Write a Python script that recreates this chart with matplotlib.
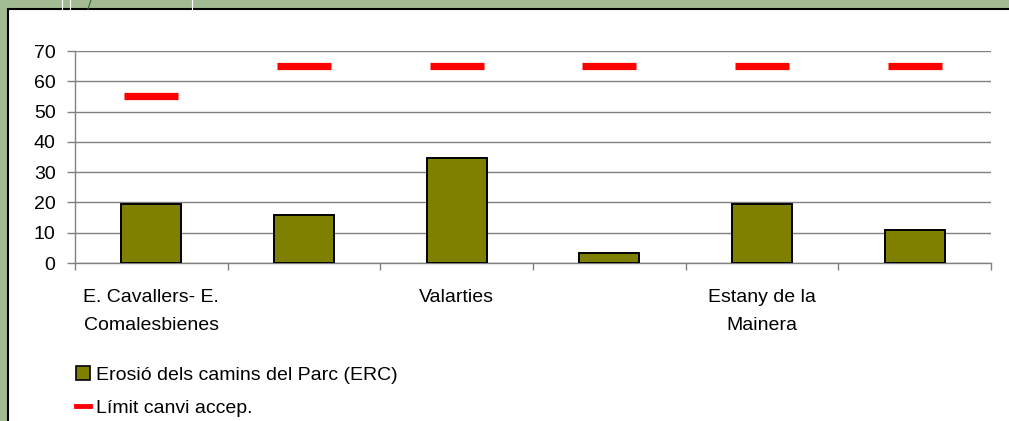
import matplotlib
matplotlib.use('Agg')

import matplotlib.pyplot as plt
from matplotlib.patches import Rectangle, Patch
from matplotlib.lines import Line2D
import numpy as np

plt.rcParams['font.family'] = ['Liberation Sans', 'DejaVu Sans']

# data
categories = ['E. Cavallers- E.\nComalesbienes', '', 'Valarties', '', 'Estany de la\nMainera', '']
erosion = [19.5, 16.0, 34.6, 3.3, 19.5, 10.8]
limit = [55, 65, 65, 65, 65, 65]
yticks = [0, 10, 20, 30, 40, 50, 60, 70]

W, H = 1009, 421
fig = plt.figure(figsize=(W/100, H/100), dpi=100)
fig.patch.set_facecolor('#a3bb93')

# white slide panel
panel = Rectangle((8/W, -0.01), 1.0, (H-9)/H + 0.01, transform=fig.transFigure,
                  facecolor='white', edgecolor='black', linewidth=1.5, zorder=-5)
fig.patches.append(panel)
# little decorative strokes above the panel
for xp, col in [(62, 'white'), (70, 'white'), (192, 'white')]:
    fig.add_artist(Line2D([xp/W, xp/W], [(H-9)/H, 1], transform=fig.transFigure, color=col, lw=0.8, zorder=-4))
fig.add_artist(Line2D([88/W, 91/W], [(H-9)/H, 1], transform=fig.transFigure, color='#2e6b2e', lw=0.8, zorder=-4))

ax = fig.add_axes([75/W, (H-263)/H, (991-75)/W, (263-51)/H])
ax.set_facecolor('none')

x = np.arange(len(categories))
ax.bar(x, erosion, width=0.395, color='#808000', edgecolor='black', linewidth=1.4, zorder=3,
       label='Erosió dels camins del Parc (ERC)')
ax.hlines(limit, x - 0.177, x + 0.177, colors='#ff0000', linewidth=5.2, zorder=4)

ax.set_xlim(-0.5, len(categories) - 0.5)
ax.set_ylim(0, 70)
ax.set_yticks(yticks)
ax.yaxis.grid(True, color='#808080', linewidth=1.0, zorder=1)
ax.set_axisbelow(True)

ax.set_xticks(x)
ax.set_xticklabels(categories, fontsize=14, linespacing=1.85)
ax.set_xticks(np.arange(len(categories) + 1) - 0.5, minor=True)
ax.tick_params(axis='x', which='major', length=0, pad=19)
ax.tick_params(axis='x', which='minor', length=5, width=1, color='#808080')
ax.tick_params(axis='y', length=6, width=1, color='#808080', labelsize=14, pad=8)

for s in ['top', 'right']:
    ax.spines[s].set_visible(False)
for s in ['left', 'bottom']:
    ax.spines[s].set_color('#808080')
    ax.spines[s].set_linewidth(1.0)

handles = [Patch(facecolor='#808000', edgecolor='black', linewidth=1.2),
           Line2D([], [], color='#ff0000', linewidth=3.5)]
labels = ['Erosió dels camins del Parc (ERC)', 'Límit canvi accep.']
fig.legend(handles, labels, loc='upper left', bbox_to_anchor=(76/W, (H-366)/H),
           frameon=False, fontsize=14, handlelength=0.7, handleheight=0.7,
           handletextpad=0.35, labelspacing=0.8, borderaxespad=0, borderpad=0)

fig.savefig('out.png', dpi=100, facecolor=fig.get_facecolor())
